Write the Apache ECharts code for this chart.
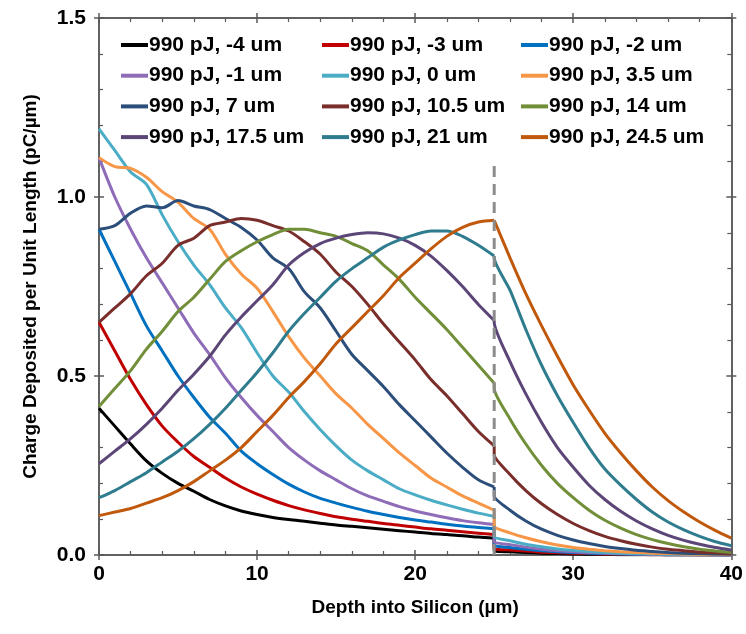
<!DOCTYPE html>
<html><head><meta charset="utf-8">
<script src="https://cdn.jsdelivr.net/npm/echarts@6/dist/echarts.min.js"></script>
<style>html,body{margin:0;padding:0;background:#fff}#c{width:746px;height:634px}</style>
</head><body><div id="c"></div>
<script>
// x positions (µm); 25 appears twice: value just before and just after the interface
const xs = [0,1,2,3,4,5,6,7,8,9,10,11,12,13,14,15,16,17,18,19,20,21,22,23,24,25,
            25,26,27,28,29,30,31,32,33,34,35,36,37,38,39,40];
const seriesNames = ['990 pJ, -4 um','990 pJ, -3 um','990 pJ, -2 um','990 pJ, -1 um','990 pJ, 0 um','990 pJ, 3.5 um',
  '990 pJ, 7 um','990 pJ, 10.5 um','990 pJ, 14 um','990 pJ, 17.5 um','990 pJ, 21 um','990 pJ, 24.5 um'];
const seriesColors = ['#000000','#C00000','#0070C0','#8E6CB8','#4BACC6','#F79646',
  '#2C4E7A','#7A2E2B','#718E38','#5B4677','#2F7C8E','#C0590C'];
const vM4 = [0.41,0.36,0.31,0.263,0.228,0.2,0.178,0.155,0.137,0.123,0.113,0.105,0.099,0.094,0.089,0.084,0.08,0.076,0.072,0.068,0.064,0.06,0.057,0.054,0.05,0.047,
  0.012,0.009,0.007,0.005,0.004,0.003,0.002,0.002,0.001,0.001,0.001,0,0,0,0,0];
const vM3 = [0.65,0.57,0.49,0.42,0.36,0.315,0.275,0.245,0.215,0.19,0.17,0.153,0.138,0.126,0.116,0.107,0.1,0.094,0.088,0.083,0.078,0.073,0.069,0.065,0.061,0.057,
  0.018,0.014,0.011,0.008,0.006,0.005,0.004,0.003,0.002,0.002,0.001,0.001,0.001,0,0,0];
const vM2 = [0.91,0.82,0.73,0.64,0.57,0.50,0.44,0.385,0.34,0.29,0.255,0.225,0.198,0.176,0.158,0.145,0.133,0.122,0.113,0.105,0.098,0.092,0.086,0.081,0.077,0.073,
  0.028,0.021,0.016,0.012,0.009,0.007,0.005,0.004,0.003,0.002,0.002,0.001,0.001,0.001,0,0];
const vM1 = [1.11,1.0,0.91,0.83,0.76,0.69,0.62,0.56,0.495,0.44,0.39,0.345,0.30,0.265,0.235,0.21,0.185,0.165,0.15,0.135,0.123,0.113,0.104,0.096,0.09,0.085,
  0.038,0.029,0.022,0.016,0.012,0.009,0.007,0.005,0.004,0.003,0.002,0.002,0.001,0.001,0.001,0];
const v0 = [1.19,1.13,1.07,1.035,0.95,0.875,0.81,0.755,0.69,0.635,0.565,0.50,0.455,0.40,0.35,0.305,0.265,0.235,0.21,0.185,0.168,0.153,0.14,0.128,0.117,0.108,
  0.052,0.04,0.03,0.023,0.017,0.013,0.01,0.007,0.005,0.004,0.003,0.002,0.002,0.001,0.001,0.001];
const v3_5 = [1.11,1.085,1.08,1.055,1.015,0.985,0.94,0.91,0.84,0.785,0.745,0.68,0.61,0.55,0.50,0.45,0.41,0.365,0.325,0.285,0.25,0.215,0.19,0.165,0.145,0.125,
  0.08,0.062,0.048,0.037,0.028,0.021,0.016,0.012,0.009,0.007,0.005,0.004,0.003,0.002,0.002,0.001];
const v7 = [0.91,0.92,0.955,0.975,0.97,0.99,0.975,0.965,0.94,0.915,0.88,0.83,0.80,0.735,0.69,0.625,0.56,0.515,0.47,0.42,0.375,0.33,0.285,0.245,0.21,0.19,
  0.165,0.125,0.095,0.072,0.055,0.042,0.032,0.024,0.018,0.013,0.01,0.007,0.005,0.004,0.003,0.002];
const v10_5 = [0.65,0.69,0.73,0.78,0.815,0.865,0.885,0.92,0.93,0.94,0.935,0.92,0.905,0.875,0.84,0.79,0.75,0.70,0.645,0.595,0.545,0.49,0.445,0.395,0.345,0.305,
  0.28,0.225,0.18,0.143,0.113,0.088,0.068,0.052,0.04,0.03,0.022,0.016,0.012,0.008,0.006,0.004];
const v14 = [0.415,0.465,0.515,0.575,0.625,0.68,0.72,0.77,0.82,0.85,0.875,0.895,0.91,0.91,0.90,0.89,0.87,0.85,0.81,0.77,0.72,0.675,0.63,0.58,0.53,0.48,
  0.465,0.38,0.31,0.25,0.2,0.16,0.125,0.097,0.075,0.057,0.043,0.032,0.023,0.016,0.011,0.007];
const v17_5 = [0.255,0.29,0.325,0.365,0.41,0.46,0.505,0.555,0.615,0.665,0.71,0.755,0.81,0.845,0.87,0.885,0.895,0.90,0.897,0.885,0.865,0.835,0.795,0.75,0.70,0.655,
  0.65,0.54,0.45,0.37,0.30,0.245,0.195,0.155,0.122,0.095,0.073,0.055,0.041,0.03,0.021,0.014];
const v21 = [0.16,0.18,0.205,0.23,0.26,0.29,0.325,0.365,0.41,0.46,0.51,0.565,0.625,0.675,0.72,0.765,0.80,0.83,0.86,0.88,0.895,0.905,0.905,0.89,0.865,0.835,
  0.83,0.74,0.63,0.53,0.445,0.37,0.30,0.24,0.195,0.155,0.12,0.092,0.07,0.052,0.037,0.026];
const v24_5 = [0.11,0.12,0.13,0.145,0.16,0.18,0.205,0.235,0.265,0.30,0.345,0.39,0.44,0.485,0.535,0.59,0.635,0.68,0.725,0.775,0.815,0.855,0.89,0.915,0.93,0.935,
  0.935,0.83,0.73,0.64,0.555,0.475,0.405,0.34,0.285,0.235,0.19,0.152,0.12,0.092,0.068,0.047];
const seriesValues = [vM4,vM3,vM2,vM1,v0,v3_5,v7,v10_5,v14,v17_5,v21,v24_5];
// interface marker (dashed)
const dashX = 25, dashBottom = 0, dashTop = 1.1;

const FONT = "'Liberation Sans', Arial, sans-serif";
const AX = '#595959';
const tickTxt = {fontFamily: FONT, fontWeight: 'bold', fontSize: 21, color: '#000'};
const titleTxt = {fontFamily: FONT, fontWeight: 'bold', fontSize: 19, color: '#000'};
const legTxt = {fontFamily: FONT, fontWeight: 'bold', fontSize: 21, color: '#000'};

function xAx(pos, inside, labels, minor) {
  return {type:'value', position:pos, min:0, max:40, interval:10,
    axisLine:{show:true, onZero:false, lineStyle:{color:AX, width:1.5}},
    axisTick:{show:true, inside:inside, length:5, lineStyle:{color:AX, width:1.5}},
    minorTick:{show:minor, splitNumber:5, length:4, lineStyle:{color:AX, width:1.2}},
    splitLine:{show:false},
    axisLabel:{show:labels, margin:9, ...tickTxt, formatter:v=>String(v)},
    name: labels ? 'Depth into Silicon (µm)' : '', nameLocation:'middle', nameGap:43,
    nameTextStyle:{...titleTxt}};
}
function yAx(pos, inside, labels, minor) {
  return {type:'value', position:pos, min:0, max:1.5, interval:0.5,
    axisLine:{show:true, onZero:false, lineStyle:{color:AX, width:1.5}},
    axisTick:{show:true, inside:inside, length:5, lineStyle:{color:AX, width:1.5}},
    minorTick:{show:minor, splitNumber:5, length:4, lineStyle:{color:AX, width:1.2}},
    splitLine:{show:false},
    axisLabel:{show:labels, margin:13, ...tickTxt, formatter:v=>v.toFixed(1)},
    name: labels ? 'Charge Deposited per Unit Length (pC/µm)' : '', nameLocation:'middle', nameGap:59,
    nameRotate:90, nameTextStyle:{...titleTxt}};
}

// each curve drawn as two pieces sharing one legend entry: before the interface, and from it onward
const SPLIT = 25; // index of the last point before the interface
const series = [];
seriesNames.forEach((n,i)=>{
  const pts = xs.map((x,j)=>[x, seriesValues[i][j]]);
  const common = {name:n, type:'line', xAxisIndex:0, yAxisIndex:0, symbol:'none', smooth:0.3,
    lineStyle:{width:3, color:seriesColors[i]}, itemStyle:{color:seriesColors[i]}, z:2+i};
  series.push({...common, data: pts.slice(0, SPLIT+1)});
  series.push({...common, smooth:0.2, data: pts.slice(SPLIT)});
});
series.push({name:'interface', type:'line', xAxisIndex:0, yAxisIndex:0, symbol:'none', silent:true,
  lineStyle:{width:3, color:'#8c8c8c', type:[11,7]}, data:[[dashX,dashBottom],[dashX,dashTop]], z:20});

function legendCol(idx, left) {
  return {orient:'vertical', left:left, top:34.5, padding:0, itemWidth:27, itemHeight:4, itemGap:9.7,
    icon:'rect', data: idx.map(i=>({name:seriesNames[i], icon:'rect', itemStyle:{color:seriesColors[i]}})),
    selectedMode:false,
    textStyle:{...legTxt, padding:[0,0,0,-4], lineHeight:21}};
}

const chart = echarts.init(document.getElementById('c'), null, {renderer:'canvas'});
chart.setOption({
  animation:false,
  grid:{left:99, right:11, top:18, bottom:79, containLabel:false},
  xAxis:[xAx('bottom',true,true,true), xAx('bottom',false,false,false), xAx('top',true,false,true), xAx('top',false,false,false)],
  yAxis:[yAx('left',true,true,true), yAx('left',false,false,false), yAx('right',true,false,true), yAx('right',false,false,false)],
  legend:[legendCol([0,3,6,9],121), legendCol([1,4,7,10],322), legendCol([2,5,8,11],521)],
  series: series
});
</script></body></html>
